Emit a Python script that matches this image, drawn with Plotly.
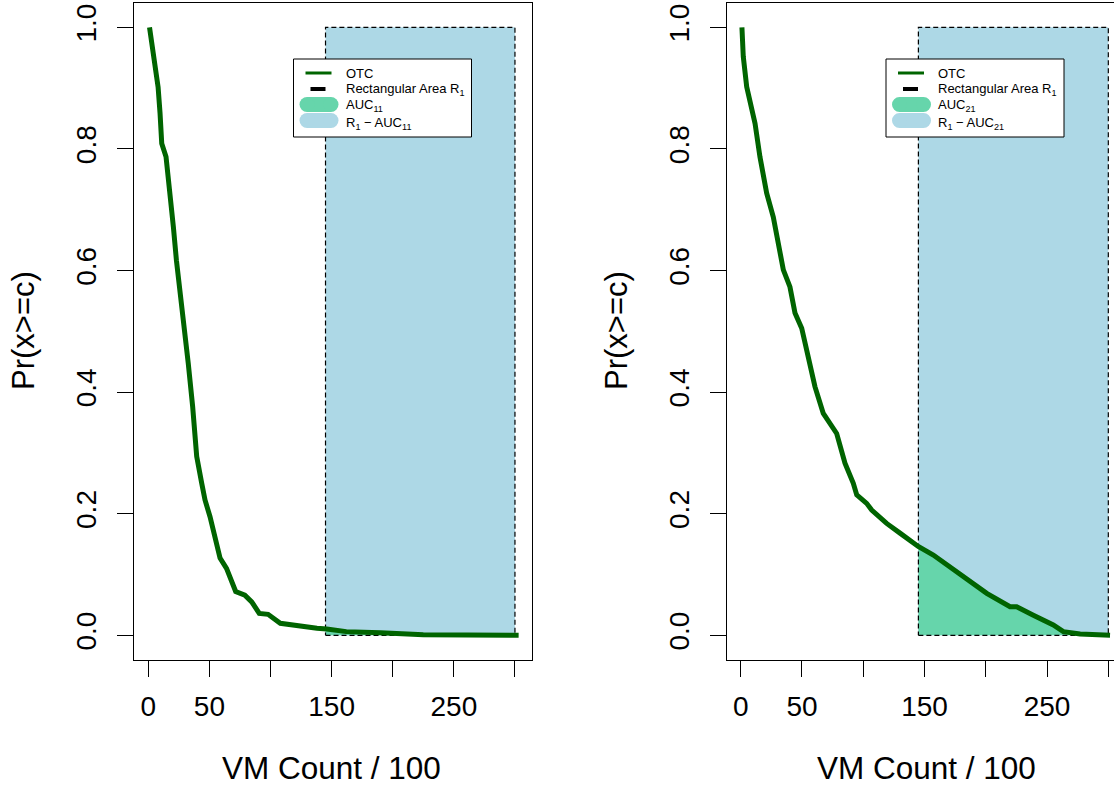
import numpy as np
import plotly.graph_objects as go

# ---- data -------------------------------------------------------------
# OTC curve, first configuration (VM count / 100 vs Pr(x>=c))
otc1_x = [1, 3, 5.5, 8, 9.6, 11, 14.5, 17, 20.5, 23, 26, 29.5, 32.7, 36.3,
          39.6, 43.7, 46.4, 50.5, 54.6, 58.7, 64, 68, 71.5, 79, 84.6, 90.8,
          98, 108, 121, 138, 146, 162, 190, 200, 225, 303]
otc1_y = [1.0, 0.968, 0.941, 0.902, 0.859, 0.809, 0.787, 0.743, 0.672, 0.617,
          0.568, 0.505, 0.447, 0.376, 0.294, 0.25, 0.2225, 0.195, 0.162, 0.127,
          0.110, 0.091, 0.072, 0.066, 0.055, 0.036, 0.0345, 0.0197, 0.0158,
          0.0115, 0.0105, 0.006, 0.004, 0.003, 0.001, 0.0]

# OTC curve, second configuration
otc2_x = [1, 2.1, 4.9, 7.6, 11.7, 15.7, 21.2, 26.6, 30.7, 34.8, 40.2, 44.3,
          49.8, 55.2, 60.6, 67.4, 78.3, 85.1, 91.9, 94.7, 102.8, 106.9, 119.1,
          130, 144.9, 157.2, 168.1, 184.4, 200.8, 219.8, 225.2, 238.8, 255.1,
          263.3, 277, 301.4]
otc2_y = [1.0, 0.952, 0.902, 0.875, 0.842, 0.787, 0.727, 0.688, 0.639, 0.601,
          0.573, 0.530, 0.505, 0.453, 0.409, 0.365, 0.332, 0.283, 0.250, 0.231,
          0.217, 0.206, 0.184, 0.168, 0.146, 0.132, 0.116, 0.091, 0.069, 0.047,
          0.047, 0.033, 0.017, 0.006, 0.002, 0.0]

# Rectangular area R1
rect_x0, rect_x1 = 145, 300
rect_y0, rect_y1 = 0.0, 1.0

x_tick_vals = [0, 50, 100, 150, 200, 250, 300]
x_tick_text = ["0", "50", "", "150", "", "250", ""]
y_tick_vals = [0.0, 0.2, 0.4, 0.6, 0.8, 1.0]
y_tick_text = ["0.0", "0.2", "0.4", "0.6", "0.8", "1.0"]

legend_labels_1 = ["OTC", "Rectangular Area R<sub>1</sub>", "AUC<sub>11</sub>",
                   "R<sub>1</sub> − AUC<sub>11</sub>"]
legend_labels_2 = ["OTC", "Rectangular Area R<sub>1</sub>", "AUC<sub>21</sub>",
                   "R<sub>1</sub> − AUC<sub>21</sub>"]

# ---- styling ----------------------------------------------------------
W, H = 1114, 789
CURVE = "#006400"
AUC_FILL = "#66D5AB"
REST_FILL = "#ADD8E6"
FONT = "Liberation Sans, Arial, sans-serif"


def px(x):
    return x / W


def py(y):
    return 1 - y / H


fig = go.Figure()


def auc_polygon(xs, ys, a, b):
    xs = np.asarray(xs, float)
    ys = np.asarray(ys, float)
    inner = xs[(xs > a) & (xs < b)]
    gx = np.concatenate([[a], inner, [b]])
    gy = np.interp(gx, xs, ys)
    px_ = np.concatenate([gx, [b, a, a]])
    py_ = np.concatenate([gy, [0, 0, gy[0]]])
    return px_, py_


def add_panel(xs, ys, xa, ya):
    rx = [rect_x0, rect_x1, rect_x1, rect_x0, rect_x0]
    ry = [rect_y0, rect_y0, rect_y1, rect_y1, rect_y0]
    fig.add_trace(go.Scatter(x=rx, y=ry, mode="lines", fill="toself",
                             fillcolor=REST_FILL, line=dict(width=0),
                             xaxis=xa, yaxis=ya, showlegend=False,
                             hoverinfo="skip"))
    ax, ay = auc_polygon(xs, ys, rect_x0, rect_x1)
    fig.add_trace(go.Scatter(x=ax, y=ay, mode="lines", fill="toself",
                             fillcolor=AUC_FILL, line=dict(width=0),
                             xaxis=xa, yaxis=ya, showlegend=False,
                             hoverinfo="skip"))
    fig.add_trace(go.Scatter(x=rx, y=ry, mode="lines",
                             line=dict(color="black", width=1.2,
                                       dash="5px,3px"),
                             xaxis=xa, yaxis=ya, showlegend=False,
                             hoverinfo="skip"))
    fig.add_trace(go.Scatter(x=xs, y=ys, mode="lines",
                             line=dict(color=CURVE, width=5),
                             xaxis=xa, yaxis=ya, showlegend=False))


add_panel(otc1_x, otc1_y, "x", "y")
add_panel(otc2_x, otc2_y, "x2", "y2")

# ---- axes -------------------------------------------------------------
y_dom = [py(659.6), py(3)]
common_x = dict(tickvals=x_tick_vals, ticktext=x_tick_text, ticks="outside",
                ticklen=16, tickwidth=1, tickcolor="black", showgrid=False,
                zeroline=False, showline=True, linecolor="black", linewidth=1,
                mirror=True, ticklabelstandoff=6,
                tickfont=dict(family=FONT, size=28, color="black"))
common_y = dict(tickvals=y_tick_vals, ticktext=y_tick_text, ticks="outside",
                ticklen=16, tickwidth=1, tickcolor="black", showgrid=False,
                zeroline=False, showline=True, linecolor="black", linewidth=1,
                range=[-0.04, 1.04], domain=y_dom, tickangle=-90,
                ticklabelstandoff=10,
                tickfont=dict(family=FONT, size=28, color="black"))

# left panel: 0 at 148.3 px, 1.2222 px per unit
s1, o1 = 1.2222, 148.3
# right panel: 0 at 740.7 px
s2, o2 = 1.2254, 740.7

fig.update_layout(
    width=W, height=H, margin=dict(l=0, r=0, t=0, b=0),
    paper_bgcolor="white", plot_bgcolor="white", showlegend=False,
    xaxis=dict(domain=[px(134), px(532)],
               range=[(134 - o1) / s1, (532 - o1) / s1], anchor="y",
               **common_x),
    yaxis=dict(anchor="x", mirror=True, **common_y),
    xaxis2=dict(domain=[px(727.3), 1.0],
                range=[(727.3 - o2) / s2, (W - o2) / s2], anchor="y2",
                **common_x),
    yaxis2=dict(anchor="x2", mirror=False, **common_y),
)

# ---- titles -----------------------------------------------------------
annotations = []
for cx, ty in [(332, 23), (926, 616)]:
    annotations.append(dict(text="VM Count / 100", x=px(cx), y=py(768),
                            xref="paper", yref="paper", showarrow=False,
                            xanchor="center", yanchor="middle",
                            font=dict(family=FONT, size=31.5, color="black")))
    annotations.append(dict(text="Pr(x>=c)", x=px(ty), y=py(331),
                            xref="paper", yref="paper", showarrow=False,
                            textangle=-90, xanchor="center", yanchor="middle",
                            font=dict(family=FONT, size=31, color="black")))

# ---- legends ----------------------------------------------------------
shapes = []


def add_legend(L, T, labels):
    shapes.append(dict(type="rect", xref="paper", yref="paper",
                       x0=px(L), x1=px(L + 178), y0=py(T), y1=py(T + 78),
                       line=dict(color="black", width=1), fillcolor="white",
                       layer="above"))
    shapes.append(dict(type="line", xref="paper", yref="paper",
                       x0=px(L + 12), x1=px(L + 38), y0=py(T + 14),
                       y1=py(T + 14), line=dict(color=CURVE, width=3),
                       layer="above"))
    shapes.append(dict(type="line", xref="paper", yref="paper",
                       x0=px(L + 17), x1=px(L + 32), y0=py(T + 30),
                       y1=py(T + 30), line=dict(color="black", width=4),
                       layer="above"))
    for cy, col in [(T + 45.5, AUC_FILL), (T + 61.5, REST_FILL)]:
        a, b, r = L + 6, L + 45, 7.5
        shapes.append(dict(type="rect", xref="paper", yref="paper",
                           x0=px(a + r), x1=px(b - r), y0=py(cy - r),
                           y1=py(cy + r), line=dict(width=0), fillcolor=col,
                           layer="above"))
        for c in (a + r, b - r):
            shapes.append(dict(type="circle", xref="paper", yref="paper",
                               x0=px(c - r), x1=px(c + r), y0=py(cy - r),
                               y1=py(cy + r), line=dict(width=0),
                               fillcolor=col, layer="above"))
    for lab, cy in zip(labels, [T + 14.5, T + 31, T + 47, T + 64]):
        annotations.append(dict(text=lab, x=px(L + 50), y=py(cy),
                                xref="paper", yref="paper", showarrow=False,
                                xanchor="left", yanchor="middle",
                                font=dict(family=FONT, size=13,
                                          color="black")))


add_legend(293.5, 59, legend_labels_1)
add_legend(886, 59, legend_labels_2)

fig.update_layout(shapes=shapes, annotations=annotations)
fig.write_html("out.html")
